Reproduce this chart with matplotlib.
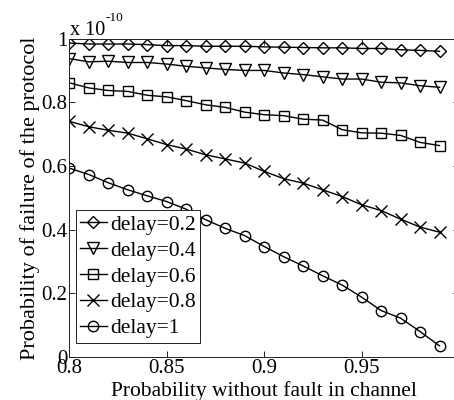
import numpy as np
import matplotlib
matplotlib.use("Agg")
import matplotlib.pyplot as plt

# probability without fault in channel
p_ok = [0.80, 0.81, 0.82, 0.83, 0.84, 0.85, 0.86, 0.87, 0.88, 0.89,
        0.90, 0.91, 0.92, 0.93, 0.94, 0.95, 0.96, 0.97, 0.98, 0.99]

# failure probability, in units of 1e-10
fail_d02 = [0.986, 0.983, 0.983, 0.983, 0.981, 0.978, 0.978, 0.976, 0.976, 0.976,
            0.974, 0.973, 0.972, 0.971, 0.971, 0.969, 0.969, 0.965, 0.963, 0.960]
fail_d04 = [0.937, 0.927, 0.929, 0.925, 0.925, 0.920, 0.913, 0.908, 0.903, 0.900,
            0.900, 0.892, 0.887, 0.880, 0.873, 0.873, 0.863, 0.861, 0.852, 0.847]
fail_d06 = [0.861, 0.845, 0.837, 0.834, 0.822, 0.817, 0.805, 0.792, 0.784, 0.769,
            0.761, 0.758, 0.747, 0.744, 0.714, 0.704, 0.703, 0.696, 0.674, 0.664]
fail_d08 = [0.740, 0.723, 0.712, 0.703, 0.685, 0.667, 0.653, 0.635, 0.622, 0.609,
            0.583, 0.560, 0.546, 0.525, 0.504, 0.478, 0.460, 0.433, 0.408, 0.392]
fail_d1 = [0.593, 0.573, 0.547, 0.525, 0.506, 0.488, 0.464, 0.431, 0.404, 0.381,
           0.347, 0.315, 0.286, 0.255, 0.226, 0.188, 0.146, 0.122, 0.080, 0.035]

labels = ["delay=0.2", "delay=0.4", "delay=0.6", "delay=0.8", "delay=1"]
series = [fail_d02, fail_d04, fail_d06, fail_d08, fail_d1]
markers = ["D", "v", "s", "x", "o"]
msizes = [6.5, 8, 7, 9, 7.5]

xticks = [0.8, 0.85, 0.9, 0.95, 1.0]
xticklabels = ["0.8", "0.85", "0.9", "0.95", ""]
yticks = [0, 0.2, 0.4, 0.6, 0.8, 1.0]
yticklabels = ["0", "0.2", "0.4", "0.6", "0.8", "1"]

plt.rcParams["font.family"] = ["Liberation Serif", "DejaVu Serif"]

fig = plt.figure(figsize=(4.54, 4.0), dpi=100)
ax = fig.add_axes([0.153, 0.1075, 0.858, 0.796])

for ys, lab, m, ms in zip(series, labels, markers, msizes):
    ax.plot(p_ok, ys, color="black", lw=1.0, marker=m, ms=ms,
            mfc="none", mec="black", mew=1.0, label=lab)

ax.set_xlim(0.8, 1.0)
ax.set_ylim(0, 1)
ax.set_xticks(xticks)
ax.set_xticklabels(xticklabels)
ax.set_yticks(yticks)
ax.set_yticklabels(yticklabels)
ax.tick_params(direction="in", length=4, width=0.6, labelsize=15,
               top=True, right=True, pad=1.5)
for s in ax.spines.values():
    s.set_linewidth(0.7)
    s.set_color("#222222")

ax.set_xlabel("Probability without fault in channel", fontsize=15.5, labelpad=2)
ax.set_ylabel("Probability of failure of the protocol", fontsize=16, labelpad=1)

leg = ax.legend(loc="lower left", bbox_to_anchor=(0.016, 0.045), borderaxespad=0,
                fontsize=15.5, fancybox=False, framealpha=1, edgecolor="#222222",
                handlelength=1.25, handletextpad=0.15, labelspacing=0.27,
                borderpad=0.2)
leg.get_frame().set_linewidth(0.7)

# MATLAB-style exponent label
fig.text(70 / 454, 1 - 35 / 400, "x 10", fontsize=14.5, va="baseline", ha="left")
fig.text(106 / 454, 1 - 21 / 400, "-10", fontsize=9.5, va="baseline", ha="left")

fig.savefig("out.png", dpi=100)
